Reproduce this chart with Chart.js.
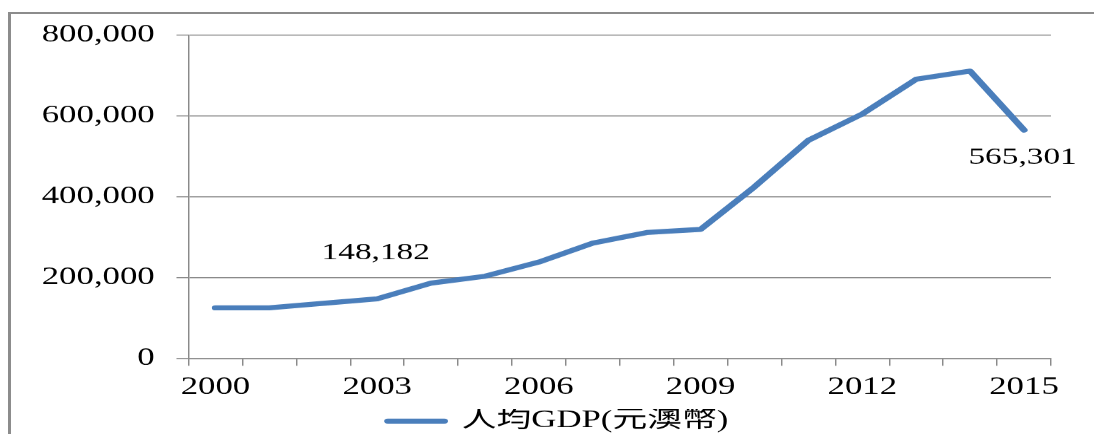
<!DOCTYPE html>
<html>
<head>
<meta charset="utf-8">
<title>人均GDP(元澳幣)</title>
<script src="https://cdn.jsdelivr.net/npm/chart.js@4/dist/chart.umd.min.js"></script>
<style>
  html, body { margin: 0; padding: 0; background: #fff; overflow: hidden; }
  body { width: 1094px; height: 434px; position: relative; }
  #frame {
    position: absolute; left: 8px; top: 12px; width: 1086px; height: 422px;
    border-left: 3px solid #8c8c8c; border-top: 2px solid #8c8c8c; box-sizing: border-box;
  }
  /* the chart is laid out on a narrower canvas and widened horizontally */
  #wrap { position: absolute; left: 0; top: 0; width: 755px; height: 434px;
          transform-origin: 0 0; }
</style>
</head>
<body>
<div id="frame"></div>
<div id="wrap"><canvas id="chart" width="755" height="434"></canvas></div>
<script>
// Per-capita GDP of Macao, MOP
const years = ['2000', '2001', '2002', '2003', '2004', '2005', '2006', '2007',
               '2008', '2009', '2010', '2011', '2012', '2013', '2014', '2015'];
const gdpPerCapita = [126000, 126000, 137000, 148182, 187000, 204000, 239000, 286000,
                      312000, 320000, 425000, 540000, 605000, 691000, 711000, 565301];
const yearTickLabels = ['2000', '2003', '2006', '2009', '2012', '2015'];
const valueTicks = [0, 200000, 400000, 600000, 800000];
const labelledYears = ['2003', '2015'];
const seriesName = '人均GDP(元澳幣)';

const STRETCH = 1094 / 755;
document.getElementById('wrap').style.transform = 'scaleX(' + STRETCH + ')';

const FONT = "'Liberation Serif', 'Times New Roman', 'Noto Sans CJK TC', serif";
const LINE_BLUE = '#4a7ebb';
const GRID = '#8a8a8a';

Chart.defaults.font.family = FONT;
Chart.defaults.color = '#000';

const fmt = v => Number(v).toLocaleString('en-US');

// value labels next to selected points
const valueLabels = {
  id: 'valueLabels',
  afterDatasetsDraw(chart, args, opts) {
    const ctx = chart.ctx;
    const meta = chart.getDatasetMeta(0);
    const data = chart.data.datasets[0].data;
    ctx.save();
    ctx.font = opts.size + 'px ' + FONT;
    ctx.fillStyle = '#000';
    ctx.textAlign = 'center';
    ctx.textBaseline = 'middle';
    chart.data.labels.forEach((year, i) => {
      if (!labelledYears.includes(year)) return;
      const pt = meta.data[i];
      const below = i === data.length - 1;
      ctx.fillText(fmt(data[i]), pt.x - 1, pt.y + (below ? opts.below : -opts.above));
    });
    ctx.restore();
  }
};

// nudge the legend box under the plot's centre
const legendOffset = {
  id: 'legendOffset',
  afterLayout(chart, args, opts) {
    const lg = chart.legend;
    if (!lg) return;
    lg.left += opts.dx; lg.right += opts.dx;
    lg.top += opts.dy; lg.bottom += opts.dy;
  }
};

new Chart(document.getElementById('chart'), {
  type: 'line',
  data: {
    labels: years,
    datasets: [{
      label: seriesName,
      data: gdpPerCapita,
      borderColor: LINE_BLUE,
      backgroundColor: LINE_BLUE,
      borderWidth: 5,
      borderCapStyle: 'round',
      borderJoinStyle: 'round',
      pointRadius: 0,
      pointHoverRadius: 0,
      tension: 0,
      fill: false
    }]
  },
  options: {
    responsive: false,
    animation: false,
    devicePixelRatio: STRETCH,
    layout: { padding: { left: 0, right: 29.7, top: 35, bottom: 0 } },
    scales: {
      x: {
        type: 'category',
        offset: true,
        grid: { display: true, drawOnChartArea: false, drawTicks: true, tickLength: 7,
                offset: true, color: GRID, lineWidth: 1 },
        border: { display: true, color: GRID, width: 1 },
        ticks: {
          autoSkip: false, maxRotation: 0, minRotation: 0, padding: 7.7,
          font: { size: 24 }, color: '#000',
          callback: (v, i) => yearTickLabels.includes(years[i]) ? years[i] : ''
        },
        afterFit: s => { s.height = 41.7; }
      },
      y: {
        min: 0, max: 800000,
        afterBuildTicks: s => { s.ticks = valueTicks.map(v => ({ value: v })); },
        grid: { color: GRID, lineWidth: 1, drawTicks: true, tickLength: 8.3 },
        border: { display: true, color: GRID, width: 1 },
        ticks: { padding: 15, font: { size: 24 }, color: '#000', callback: v => fmt(v) },
        afterFit: s => { s.width = 130.1; }
      }
    },
    plugins: {
      legend: {
        position: 'bottom',
        labels: {
          usePointStyle: true, pointStyle: 'line', pointStyleWidth: 39,
          padding: 0, font: { size: 24 }, color: '#000',
          generateLabels(chart) {
            return Chart.defaults.plugins.legend.labels.generateLabels(chart).map(item =>
              Object.assign(item, { lineWidth: 5, lineCap: 'round', strokeStyle: LINE_BLUE }));
          }
        }
      },
      tooltip: { enabled: false },
      valueLabels: { size: 23, above: 46, below: 27.4 },
      legendOffset: { dx: 22.5, dy: 8.5 }
    }
  },
  plugins: [valueLabels, legendOffset]
});
</script>
</body>
</html>
